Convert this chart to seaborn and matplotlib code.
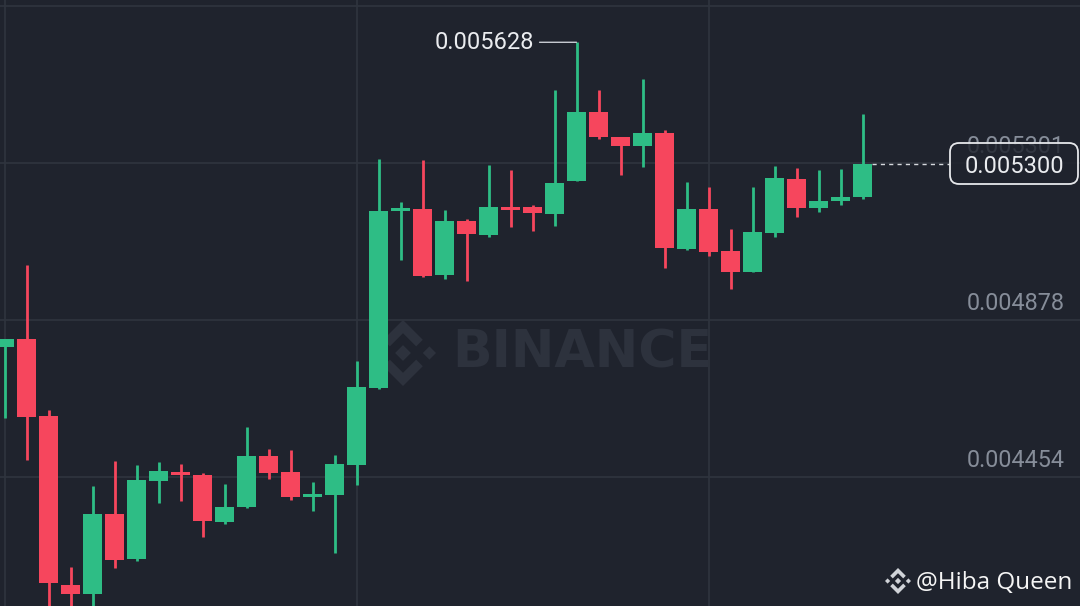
import matplotlib
matplotlib.use("Agg")
import matplotlib.pyplot as plt
from matplotlib.patches import Polygon, FancyBboxPatch
from matplotlib.transforms import IdentityTransform
import seaborn as sns

# candle data (oldest -> newest)
opens = [0.004805, 0.004827, 0.004619, 0.004162, 0.004138, 0.004354, 0.004233, 0.004443,
         0.004468, 0.004459, 0.004332, 0.004373, 0.004511, 0.004468, 0.004400, 0.004405,
         0.004486, 0.004694, 0.005172, 0.005178, 0.004999, 0.005145, 0.005108, 0.005183,
         0.005183, 0.005164, 0.005253, 0.005440, 0.005372, 0.005348, 0.005383, 0.005070,
         0.005178, 0.005064, 0.005008, 0.005113, 0.005259, 0.005180, 0.005199, 0.005210]
highs = [0.004827, 0.005027, 0.004635, 0.004211, 0.004430, 0.004497, 0.004486, 0.004495,
         0.004489, 0.004465, 0.004435, 0.004589, 0.004530, 0.004527, 0.004441, 0.004513,
         0.004767, 0.005313, 0.005197, 0.005310, 0.005175, 0.005151, 0.005297, 0.005283,
         0.005189, 0.005499, 0.005628, 0.005499, 0.005372, 0.005529, 0.005391, 0.005251,
         0.005237, 0.005124, 0.005237, 0.005294, 0.005288, 0.005283, 0.005286, 0.005434]
lows = [0.004613, 0.004500, 0.004089, 0.004081, 0.004095, 0.004208, 0.004227, 0.004384,
        0.004389, 0.004292, 0.004327, 0.004370, 0.004449, 0.004392, 0.004362, 0.004249,
        0.004432, 0.004692, 0.005040, 0.004994, 0.004989, 0.004983, 0.005102, 0.005129,
        0.005118, 0.005132, 0.005253, 0.005367, 0.005270, 0.005291, 0.005018, 0.005067,
        0.005051, 0.004962, 0.005008, 0.005102, 0.005156, 0.005170, 0.005189, 0.005205]
closes = [0.004827, 0.004616, 0.004168, 0.004138, 0.004354, 0.004230, 0.004446, 0.004470,
          0.004459, 0.004335, 0.004373, 0.004511, 0.004465, 0.004400, 0.004407, 0.004489,
          0.004697, 0.005172, 0.005180, 0.004997, 0.005145, 0.005110, 0.005183, 0.005175,
          0.005167, 0.005248, 0.005440, 0.005372, 0.005348, 0.005383, 0.005072, 0.005178,
          0.005062, 0.005008, 0.005116, 0.005261, 0.005180, 0.005199, 0.005210, 0.005300]

price_levels = [0.005725, 0.005301, 0.004878, 0.004454]
price_labels = ["0.005725", "0.005301", "0.004878", "0.004454"]
time_grid = [0, 16, 32]
high_label = "0.005628"
last_label = "0.005300"

BG = "#1f232d"
GRID = "#2f343e"
UP = "#2ebd85"
DOWN = "#f6465d"
MUTED = "#868d99"
TEXT = "#eaecef"
WATERMARK = "#2d323d"

W, H = 1080, 606

sns.set_theme(style="dark", rc={"axes.facecolor": BG, "figure.facecolor": BG,
                                "grid.color": GRID, "axes.edgecolor": BG})
plt.rcParams["font.family"] = ["Roboto", "DejaVu Sans"]

fig = plt.figure(figsize=(W / 100, H / 100), dpi=100)
ax = fig.add_axes([0, 0, 1, 1])


def draw_logo(target, cx, cy, r, color, z):
    # rough Binance diamond mark, drawn in pixel space (y measured from top)
    shapes = [
        [(0, -1), (0.6, -0.4), (0.4, -0.2), (0, -0.6), (-0.4, -0.2), (-0.6, -0.4)],
        [(0, 1), (0.6, 0.4), (0.4, 0.2), (0, 0.6), (-0.4, 0.2), (-0.6, 0.4)],
        [(0, -0.24), (0.24, 0), (0, 0.24), (-0.24, 0)],
        [(0.8, -0.2), (1.0, 0), (0.8, 0.2), (0.6, 0)],
        [(-0.8, -0.2), (-0.6, 0), (-0.8, 0.2), (-1.0, 0)],
    ]
    for s in shapes:
        pts = [(cx + r * a, H - (cy + r * b)) for a, b in s]
        p = Polygon(pts, closed=True, facecolor=color, edgecolor="none",
                    transform=IdentityTransform(), zorder=z)
        if target is fig:
            fig.add_artist(p)
        else:
            target.add_patch(p)


# watermark behind the candles
draw_logo(ax, 403, 353, 33, WATERMARK, 0.5)
ax.text(452 / W, 1 - 354 / H, "BINANCE", transform=ax.transAxes, ha="left", va="center",
        fontsize=37.5, fontweight="bold", family="DejaVu Sans", color=WATERMARK, zorder=1)

x = list(range(len(opens)))
colors = [UP if c >= o else DOWN for o, c in zip(opens, closes)]
bottoms = [min(o, c) for o, c in zip(opens, closes)]
heights = [abs(c - o) for o, c in zip(opens, closes)]

ax.vlines(x, lows, highs, colors=colors, linewidth=2.0, zorder=3)
ax.bar(x, heights, bottom=bottoms, width=0.86, color=colors, linewidth=0, zorder=4)

ax.set_xlim(-4.5 / 22, (W - 4.5) / 22)
ax.set_ylim(0.0041056, 0.0057422)
ax.set_yticks(price_levels)
ax.set_xticks(time_grid)
ax.grid(True, color=GRID, linewidth=1.2)
ax.tick_params(labelleft=False, labelbottom=False, length=0)
for s in ax.spines.values():
    s.set_visible(False)

for lv, lab in zip(price_levels, price_labels):
    ax.annotate(lab, xy=(1, lv), xycoords=("axes fraction", "data"), xytext=(-15, 5),
                textcoords="offset pixels", ha="right", va="bottom", fontsize=16.8,
                color=MUTED, zorder=5)

# highest high marker
i_hi = highs.index(max(highs))
ax.annotate(high_label, xy=(i_hi, highs[i_hi]), xytext=(-43, 0), textcoords="offset pixels",
            ha="right", va="center", fontsize=17, color=TEXT, zorder=6,
            arrowprops=dict(arrowstyle="-", color="#c9cdd4", lw=1.0, shrinkA=2, shrinkB=0))

# last price line + box
last = closes[-1]
box_left_x = (950 - 4.5) / 22
ax.hlines(last, x[-1] + 0.43, box_left_x, colors="#d5d8dd", linestyles=(0, (3, 3)),
          linewidth=1.0, zorder=5)
fig.add_artist(FancyBboxPatch((950, H - 184), 128, 41, boxstyle="round,pad=0,rounding_size=9",
                              facecolor=BG, alpha=0.82, edgecolor="none",
                              transform=IdentityTransform(), zorder=7))
fig.add_artist(FancyBboxPatch((950, H - 184), 128, 41, boxstyle="round,pad=0,rounding_size=9",
                              facecolor="none", edgecolor="#e6e8eb", linewidth=1.3,
                              transform=IdentityTransform(), zorder=8))
fig.text(1014 / W, 1 - 167 / H, last_label, ha="center", va="center", fontsize=17,
         color=TEXT, zorder=9)

# author tag
draw_logo(fig, 898, 581, 13, "#d0d3d8", 9)
fig.text(916 / W, 1 - 583 / H, "@Hiba Queen", ha="left", va="center", fontsize=17.5,
         family=["Open Sans", "DejaVu Sans"], color="#f5f5f5", zorder=9)

fig.savefig("out.png", dpi=100, facecolor=BG)
